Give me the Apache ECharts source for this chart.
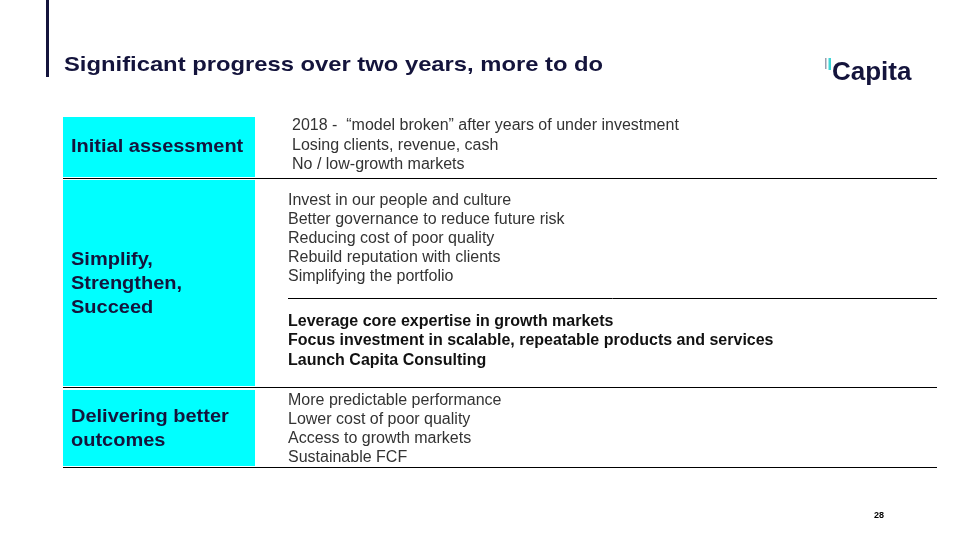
<!DOCTYPE html>
<html><head><meta charset="utf-8">
<script src="https://cdn.jsdelivr.net/npm/echarts@6/dist/echarts.min.js"></script>
<style>html,body{margin:0;padding:0;background:#fff}#c{width:960px;height:540px}</style>
</head><body><div id="c"></div>
<script>
const title = "Significant progress over two years, more to do";
const logoText = "Capita";
const pageNumber = "28";
const sectionLabels = ["Initial assessment", "Simplify,\nStrengthen,\nSucceed", "Delivering better\noutcomes"];
const items1 = ["2018 -  \u201cmodel broken\u201d after years of under investment", "Losing clients, revenue, cash", "No / low-growth markets"];
const items2a = ["Invest in our people and culture", "Better governance to reduce future risk", "Reducing cost of poor quality", "Rebuild reputation with clients", "Simplifying the portfolio"];
const items2b = ["Leverage core expertise in growth markets", "Focus investment in scalable, repeatable products and services", "Launch Capita Consulting"];
const items3 = ["More predictable performance", "Lower cost of poor quality", "Access to growth markets", "Sustainable FCF"];

const NAVY = '#14143c', CYAN = '#00FFFF', GREY = '#333333';
const FONT = '"Liberation Sans", Arial, sans-serif';
const g = [];
g.push({type:'rect', shape:{x:46,y:0,width:3,height:77}, style:{fill:NAVY}});
g.push({type:'text', x:64, y:65, scaleX:1.16, style:{text:title, font:'bold 20.5px '+FONT, fill:NAVY, textVerticalAlign:'middle'}});
// logo
g.push({type:'rect', shape:{x:825,y:58,width:1.5,height:11}, style:{fill:'#9aa0b0'}});
g.push({type:'rect', shape:{x:828.5,y:58,width:2.5,height:12}, style:{fill:'#3fd6d6'}});
g.push({type:'text', x:832, y:73, style:{text:logoText, font:'bold 26px '+FONT, fill:NAVY, textVerticalAlign:'middle'}});
// cyan boxes
const boxes = [[117,60],[180,206],[390,76]];
boxes.forEach(b=>g.push({type:'rect', shape:{x:63,y:b[0],width:192,height:b[1]}, style:{fill:CYAN}}));
// separators
[178.5,387.5,467.5].forEach(y=>g.push({type:'line', shape:{x1:63,y1:y,x2:937,y2:y}, style:{stroke:'#000',lineWidth:1}}));
g.push({type:'line', shape:{x1:288,y1:298.5,x2:937,y2:298.5}, style:{stroke:'#000',lineWidth:1}});
// section labels
const labelY = [[147],[260,284,308],[417,441]];
sectionLabels.forEach((s,i)=>{
  s.split('\n').forEach((t,j)=>g.push({type:'text', x:71, y:labelY[i][j], scaleX:1.07, style:{text:t, font:'bold 18.7px '+FONT, fill:NAVY, textVerticalAlign:'middle'}}));
});
function lines(arr, x, y0, dy, bold, color){
  arr.forEach((t,j)=>g.push({type:'text', x:x, y:y0+j*dy, style:{text:t, font:(bold?'bold ':'')+'16px '+FONT, fill:color, textVerticalAlign:'middle'}}));
}
lines(items1, 292, 126, 19.3, false, GREY);
lines(items2a, 288, 200.5, 19.1, false, GREY);
lines(items2b, 288, 321.5, 19.5, true, '#111');
lines(items3, 288, 401, 19, false, GREY);
g.push({type:'text', x:874, y:516, style:{text:pageNumber, font:'bold 9px '+FONT, fill:'#000', textVerticalAlign:'middle'}});

const chart = echarts.init(document.getElementById('c'), null, {renderer:'canvas'});
chart.setOption({animation:false, backgroundColor:'#fff', graphic:g});
</script></body></html>
